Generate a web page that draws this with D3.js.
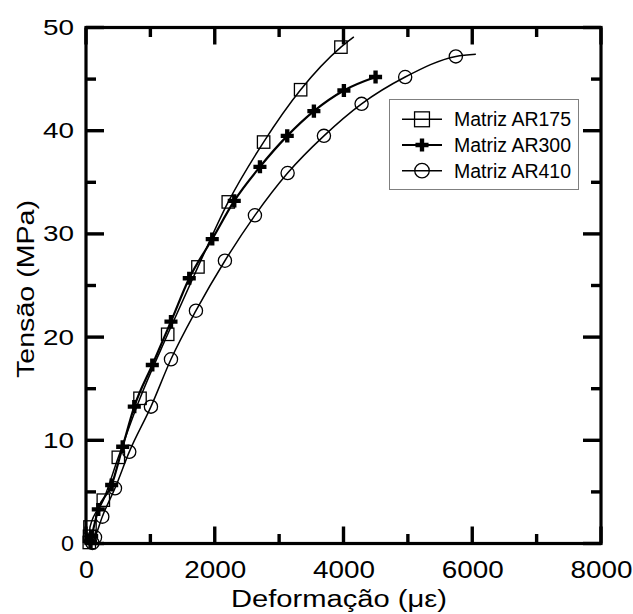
<!DOCTYPE html>
<html><head><meta charset="utf-8">
<script src="https://cdn.jsdelivr.net/npm/d3@7"></script>
<style>body{margin:0;background:#fff}svg{display:block}</style>
</head><body>
<svg id="chart" width="633" height="614"></svg>
<script>
const seriesNames = ["Matriz AR175", "Matriz AR300", "Matriz AR410"];
const ar175X = [51, 55, 62, 269, 502, 839, 1269, 1739, 2210, 2759, 3334, 3960];
const ar175Y = [0.1, 0.7, 1.6, 4.2, 8.35, 14.07, 20.27, 26.8, 33.1, 38.9, 43.97, 48.1];
const ar300X = [70, 88, 191, 399, 570, 750, 1030, 1320, 1604, 1961, 2303, 2702, 3126, 3540, 4006, 4498];
const ar300Y = [0.2, 0.7, 3.3, 5.67, 9.38, 13.26, 17.3, 21.5, 25.7, 29.5, 33.2, 36.5, 39.5, 41.9, 43.9, 45.2];
const ar410X = [100, 140, 253, 450, 672, 1009, 1320, 1708, 2158, 2624, 3132, 3696, 4281, 4958, 5745];
const ar410Y = [0.05, 0.6, 2.6, 5.35, 8.88, 13.26, 17.85, 22.56, 27.4, 31.8, 35.9, 39.5, 42.6, 45.2, 47.2];
const lineEndX = [4161, 4498, 6056];
const lineEndY = [49.1, 45.2, 47.4];
const xTicks = [0, 2000, 4000, 6000, 8000];
const xMinorTicks = [1000, 3000, 5000, 7000];
const yTicks = [0, 10, 20, 30, 40, 50];
const yMinorTicks = [5, 15, 25, 35, 45];
const xTitle = "Deformação (με)";
const yTitle = "Tensão (MPa)";

const svg = d3.select("#chart");
const L = 86, R = 601, T = 27.5, B = 543.5;
const x = d3.scaleLinear().domain([0, 8000]).range([L, R]);
const y = d3.scaleLinear().domain([0, 50]).range([B, T]);
const FONT = "'Liberation Sans', Arial, sans-serif";

const series = [
  {name: seriesNames[0], xs: ar175X, ys: ar175Y, sym: "square", lw: 1.5},
  {name: seriesNames[1], xs: ar300X, ys: ar300Y, sym: "plus", lw: 2.2},
  {name: seriesNames[2], xs: ar410X, ys: ar410Y, sym: "circle", lw: 1.5}
];
series.forEach((s, i) => {
  s.pts = s.xs.map((v, j) => [v, s.ys[j]]);
  s.line = s.pts.slice();
  const last = s.pts[s.pts.length - 1];
  if (last[0] !== lineEndX[i]) s.line.push([lineEndX[i], lineEndY[i]]);
});

// frame
svg.append("rect").attr("x", L).attr("y", T).attr("width", R - L).attr("height", B - T)
  .attr("fill", "none").attr("stroke", "#000").attr("stroke-width", 3.2);

// inward ticks on all four sides
const tg = svg.append("g");
const mk = (x1, y1, x2, y2) => tg.append("line").attr("x1", x1).attr("y1", y1).attr("x2", x2).attr("y2", y2)
  .attr("stroke", "#000").attr("stroke-width", 3.4);
xTicks.forEach(v => { mk(x(v), B, x(v), B - 17); mk(x(v), T, x(v), T + 17); });
xMinorTicks.forEach(v => { mk(x(v), B, x(v), B - 9.5); mk(x(v), T, x(v), T + 9.5); });
yTicks.forEach(v => { mk(L, y(v), L + 18, y(v)); mk(R, y(v), R - 18, y(v)); });
yMinorTicks.forEach(v => { mk(L, y(v), L + 10, y(v)); mk(R, y(v), R - 10, y(v)); });

// lines
const lineGen = d3.line().x(d => x(d[0])).y(d => y(d[1])).curve(d3.curveMonotoneX);
series.forEach(s => {
  svg.append("path").attr("d", lineGen(s.line))
    .attr("fill", "none").attr("stroke", "#000").attr("stroke-width", s.lw);
});

function drawMarker(g, sym, cx, cy, big) {
  const k = big ? 1.2 : 1;
  if (sym === "square") {
    const h = 6.2 * k;
    g.append("rect").attr("x", cx - h).attr("y", cy - h).attr("width", 2 * h).attr("height", 2 * h)
      .attr("fill", "none").attr("stroke", "#000").attr("stroke-width", 1.3);
  } else if (sym === "circle") {
    g.append("circle").attr("cx", cx).attr("cy", cy).attr("r", 6.6 * (big ? 1.1 : 1))
      .attr("fill", "none").attr("stroke", "#000").attr("stroke-width", 1.3);
  } else {
    g.append("path").attr("d", d3.symbol(d3.symbolCross, 95)())
      .attr("transform", `translate(${cx},${cy})`).attr("fill", "#000");
  }
}
series.forEach(s => {
  const g = svg.append("g");
  s.pts.forEach(p => drawMarker(g, s.sym, x(p[0]), y(p[1]), false));
});

svg.append("g").attr("transform", `translate(0,${B})`)
  .call(d3.axisBottom(x).tickValues(xTicks).tickSize(0).tickPadding(17.5).tickFormat(d3.format("d")))
  .call(g => g.select(".domain").remove())
  .call(g => g.selectAll("text").attr("font-family", FONT).attr("font-size", 24).attr("fill", "#000")
      .attr("lengthAdjust", "spacingAndGlyphs").attr("textLength", d => String(d).length === 1 ? 15 : 62));
svg.append("g").attr("transform", `translate(${L},0)`)
  .call(d3.axisLeft(y).tickValues(yTicks).tickSize(0).tickPadding(12).tickFormat(d3.format("d")))
  .call(g => g.select(".domain").remove())
  .call(g => g.selectAll("text").attr("font-family", FONT).attr("font-size", 22).attr("fill", "#000")
      .attr("lengthAdjust", "spacingAndGlyphs").attr("textLength", d => String(d).length === 1 ? 13 : 31));

svg.append("text").attr("x", 339).attr("y", 607).attr("text-anchor", "middle")
  .attr("font-family", FONT).attr("font-size", 23).attr("fill", "#000")
  .attr("lengthAdjust", "spacingAndGlyphs").attr("textLength", 216).text(xTitle);
svg.append("text").attr("transform", "translate(33.5,289) rotate(-90)").attr("text-anchor", "middle")
  .attr("font-family", FONT).attr("font-size", 24.5).attr("fill", "#000")
  .attr("lengthAdjust", "spacingAndGlyphs").attr("textLength", 178).text(yTitle);

const lg = svg.append("g");
lg.append("rect").attr("x", 389.5).attr("y", 99.5).attr("width", 189).attr("height", 90)
  .attr("fill", "#fff").attr("stroke", "#7f7f7f").attr("stroke-width", 1);
const rowY = [119.3, 145, 170.7];
series.forEach((s, i) => {
  lg.append("line").attr("x1", 402).attr("x2", 442).attr("y1", rowY[i]).attr("y2", rowY[i])
    .attr("stroke", "#000").attr("stroke-width", s.lw);
  drawMarker(lg, s.sym, 422, rowY[i], true);
  lg.append("text").attr("x", 454).attr("y", rowY[i] + 7).attr("font-family", FONT)
    .attr("font-size", 19.5).attr("fill", "#000").text(s.name);
});
</script>
</body></html>
